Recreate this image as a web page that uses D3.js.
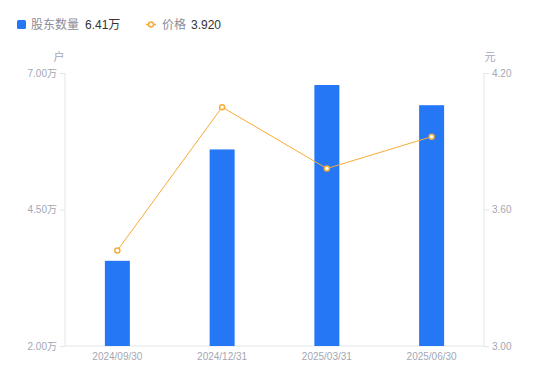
<!DOCTYPE html>
<html>
<head>
<meta charset="UTF-8" />
<script src="https://d3js.org/d3.v7.min.js"></script>
<title>股东数量</title>
<style>
body { margin: 0; background: #fff; }
text { font-family: "Noto Sans CJK SC", "Noto Sans", sans-serif; }
</style>
</head>
<body>
<script type="text/javascript">

// data
var dates = ["2024/09/30", "2024/12/31", "2025/03/31", "2025/06/30"];
var holders = [3.56, 5.60, 6.78, 6.41];   // 万户
var price = [3.42, 4.05, 3.78, 3.92];     // 元
var leftTicks = [2.00, 4.50, 7.00];
var rightTicks = [3.00, 3.60, 4.20];

var W = 550, H = 381;
var margin = {top: 73, right: 66, bottom: 35, left: 65},
    width = W - margin.left - margin.right,
    height = H - margin.top - margin.bottom;

var barColor = "#2577f5", lineColor = "#f8ab36",
    tickColor = "#a4a7b3", axisColor = "#e3e5ea",
    numFont = "'Liberation Sans', Arial, 'Noto Sans CJK SC', sans-serif";

var svg = d3.select("body").append("svg")
    .attr("width", W)
    .attr("height", H);

var g = svg.append("g")
    .attr("transform", "translate(" + margin.left + "," + margin.top + ")");

var x = d3.scaleBand().domain(dates).range([0, width]),
    yL = d3.scaleLinear().domain([2, 7]).range([height, 0]),
    yR = d3.scaleLinear().domain([3, 4.2]).range([height, 0]);

//axes
var leftAxis = g.append("g")
    .call(d3.axisLeft(yL).tickValues(leftTicks).tickSize(5).tickPadding(3)
      .tickFormat(function(d){ return d3.format(".2f")(d) + "万"; }));
var rightAxis = g.append("g")
    .attr("transform", "translate(" + width + ",0)")
    .call(d3.axisRight(yR).tickValues(rightTicks).tickSize(5).tickPadding(3)
      .tickFormat(d3.format(".2f")));
var bottomAxis = g.append("g")
    .attr("transform", "translate(0," + height + ")")
    .call(d3.axisBottom(x).tickSize(0).tickPadding(7));

[leftAxis, rightAxis, bottomAxis].forEach(function(a){
  a.select(".domain").attr("stroke", axisColor);
  a.selectAll(".tick line").attr("stroke", axisColor);
  a.selectAll(".tick text").attr("fill", tickColor).style("font-size", "10px")
    .style("font-family", numFont);
});
leftAxis.select(".domain").attr("d", "M0,0V" + height);
rightAxis.select(".domain").attr("d", "M0,0V" + height);
bottomAxis.select(".domain").attr("d", "M0,0H" + width);

//units
g.append("text").attr("x", -6).attr("y", -12).attr("text-anchor", "middle")
  .attr("fill", tickColor).style("font-size", "11px").text("户");
g.append("text").attr("x", width + 6).attr("y", -12).attr("text-anchor", "middle")
  .attr("fill", tickColor).style("font-size", "11px").text("元");

//bars
var bw = 25;
g.selectAll(".bar")
    .data(holders)
    .enter().append("rect")
    .attr("fill", barColor)
    .attr("x", function(d, i){ return x(dates[i]) + x.bandwidth() / 2 - bw / 2; })
    .attr("width", bw)
    .attr("y", function(d){ return yL(d); })
    .attr("height", function(d){ return height - yL(d); });

//price line
var line = d3.line()
    .x(function(d, i){ return x(dates[i]) + x.bandwidth() / 2; })
    .y(function(d){ return yR(d); });
g.append("path").datum(price)
    .attr("fill", "none").attr("stroke", lineColor).attr("stroke-width", 1)
    .attr("d", line);
g.selectAll(".pt")
    .data(price)
    .enter().append("circle")
    .attr("cx", function(d, i){ return x(dates[i]) + x.bandwidth() / 2; })
    .attr("cy", function(d){ return yR(d); })
    .attr("r", 2.5)
    .attr("fill", "#fff").attr("stroke", lineColor).attr("stroke-width", 1.5);

//legend
var lg = svg.append("g");
lg.append("rect").attr("x", 17).attr("y", 20).attr("width", 9).attr("height", 9)
  .attr("rx", 1.5).attr("fill", barColor);
lg.append("text").attr("x", 31).attr("y", 29).attr("fill", "#8a8d99")
  .style("font-size", "12px").text("股东数量");
lg.append("text").attr("x", 85).attr("y", 29).attr("fill", "#333")
  .style("font-size", "12px").style("font-family", numFont)
  .text(d3.format(".2f")(holders[3]) + "万");
lg.append("line").attr("x1", 146).attr("x2", 156).attr("y1", 24.5).attr("y2", 24.5)
  .attr("stroke", lineColor).attr("stroke-width", 1.5);
lg.append("circle").attr("cx", 151).attr("cy", 24.5).attr("r", 2.5)
  .attr("fill", "#fff").attr("stroke", lineColor).attr("stroke-width", 1.5);
lg.append("text").attr("x", 162).attr("y", 29).attr("fill", "#8a8d99")
  .style("font-size", "12px").text("价格");
lg.append("text").attr("x", 191).attr("y", 29).attr("fill", "#333")
  .style("font-size", "12px").style("font-family", numFont)
  .text(d3.format(".3f")(price[3]));

</script>
</body>
</html>
